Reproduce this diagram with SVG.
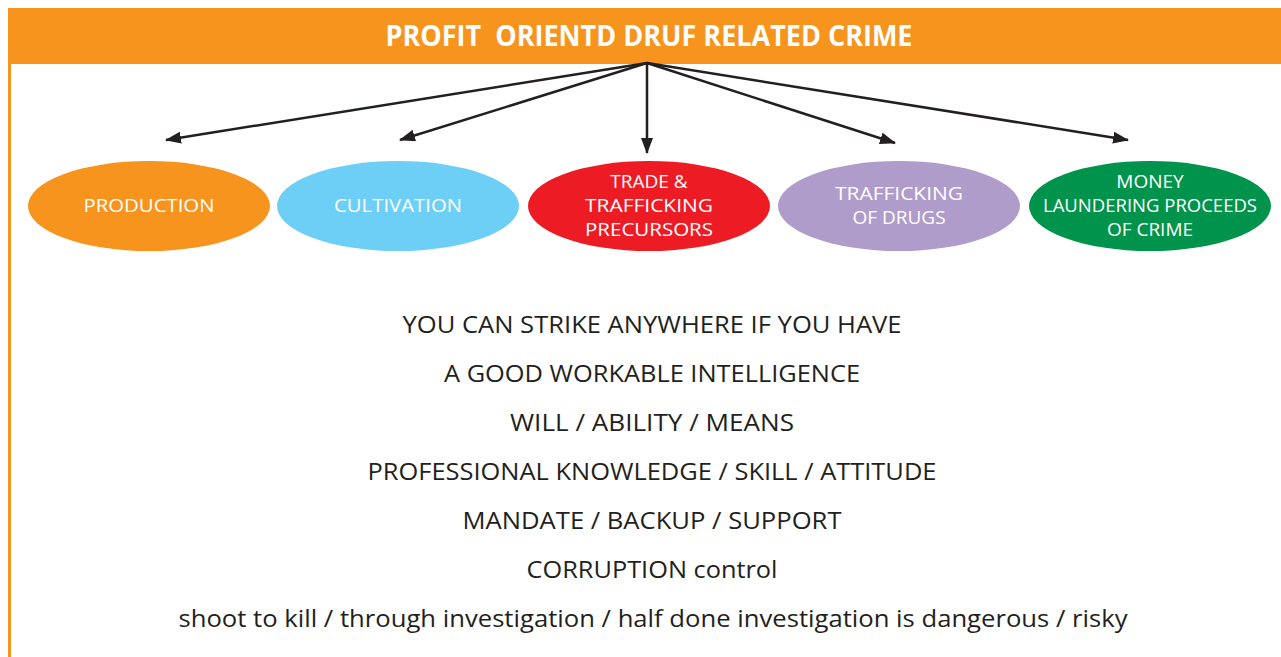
<svg xmlns="http://www.w3.org/2000/svg" width="1281" height="657" viewBox="0 0 1281 657">
<defs>
<marker id="ah" markerWidth="16" markerHeight="12" refX="15" refY="6" orient="auto" markerUnits="userSpaceOnUse">
<path d="M0,0 L16,6 L0,12 Z" fill="#231f20"/>
</marker>
<style>
.hdr{font-family:"Open Sans","Liberation Sans",sans-serif;font-weight:bold;font-size:28px;fill:#fff;text-anchor:middle;white-space:pre}
.lbl{font-family:"Open Sans","Liberation Sans",sans-serif;font-size:19px;fill:#fff;text-anchor:middle}
.body{font-family:"Open Sans","Liberation Sans",sans-serif;font-size:24px;fill:#231f20;text-anchor:middle}
.con{stroke:#231f20;stroke-width:2.5;fill:none;marker-end:url(#ah)}
</style>
</defs>
<rect width="1281" height="657" fill="#fff"/>
<g id="header">
<rect x="8" y="8" width="1273" height="56" fill="#f7941e"/>
<rect x="8" y="64" width="3" height="593" fill="#f7941e"/>
<text class="hdr" x="649" y="46" textLength="527" lengthAdjust="spacingAndGlyphs" xml:space="preserve">PROFIT  ORIENTD DRUF RELATED CRIME</text>
</g>
<g id="connectors">
<line class="con" x1="647" y1="63" x2="166" y2="140"/>
<line class="con" x1="647" y1="63" x2="400" y2="140"/>
<line class="con" x1="647" y1="63" x2="647" y2="153"/>
<line class="con" x1="647" y1="63" x2="895" y2="143"/>
<line class="con" x1="647" y1="63" x2="1128" y2="140"/>
</g>
<g id="production">
<ellipse cx="149" cy="206" rx="121" ry="45" fill="#f7941e"/>
<text class="lbl" x="149" y="212" textLength="131" lengthAdjust="spacingAndGlyphs">PRODUCTION</text>
</g>
<g id="cultivation">
<ellipse cx="398" cy="206" rx="121" ry="45" fill="#6dcff6"/>
<text class="lbl" x="398" y="212" textLength="128" lengthAdjust="spacingAndGlyphs">CULTIVATION</text>
</g>
<g id="trade">
<ellipse cx="649" cy="206" rx="121" ry="45" fill="#ed1c24"/>
<text class="lbl" x="649" y="188">TRADE &amp;</text>
<text class="lbl" x="649" y="212" textLength="128" lengthAdjust="spacingAndGlyphs">TRAFFICKING</text>
<text class="lbl" x="649" y="236" textLength="128" lengthAdjust="spacingAndGlyphs">PRECURSORS</text>
</g>
<g id="trafficking">
<ellipse cx="899" cy="206" rx="121" ry="45" fill="#b09ccb"/>
<text class="lbl" x="899" y="200" textLength="128" lengthAdjust="spacingAndGlyphs">TRAFFICKING</text>
<text class="lbl" x="899" y="224">OF DRUGS</text>
</g>
<g id="money">
<ellipse cx="1150" cy="206" rx="121" ry="45" fill="#00934c"/>
<text class="lbl" x="1150" y="188">MONEY</text>
<text class="lbl" x="1150" y="212" textLength="214" lengthAdjust="spacingAndGlyphs">LAUNDERING PROCEEDS</text>
<text class="lbl" x="1150" y="236">OF CRIME</text>
</g>
<g id="notes">
<text class="body" x="652" y="333" textLength="499" lengthAdjust="spacingAndGlyphs">YOU CAN STRIKE ANYWHERE IF YOU HAVE</text>
<text class="body" x="652" y="382" textLength="416" lengthAdjust="spacingAndGlyphs">A GOOD WORKABLE INTELLIGENCE</text>
<text class="body" x="652" y="431" textLength="284" lengthAdjust="spacingAndGlyphs">WILL / ABILITY / MEANS</text>
<text class="body" x="652" y="480" textLength="569" lengthAdjust="spacingAndGlyphs">PROFESSIONAL KNOWLEDGE / SKILL / ATTITUDE</text>
<text class="body" x="652" y="529" textLength="379" lengthAdjust="spacingAndGlyphs">MANDATE / BACKUP / SUPPORT</text>
<text class="body" x="652" y="578" textLength="251" lengthAdjust="spacingAndGlyphs">CORRUPTION control</text>
<text class="body" x="653" y="627" textLength="949" lengthAdjust="spacingAndGlyphs">shoot to kill / through investigation / half done investigation is dangerous / risky</text>
</g>
</svg>
